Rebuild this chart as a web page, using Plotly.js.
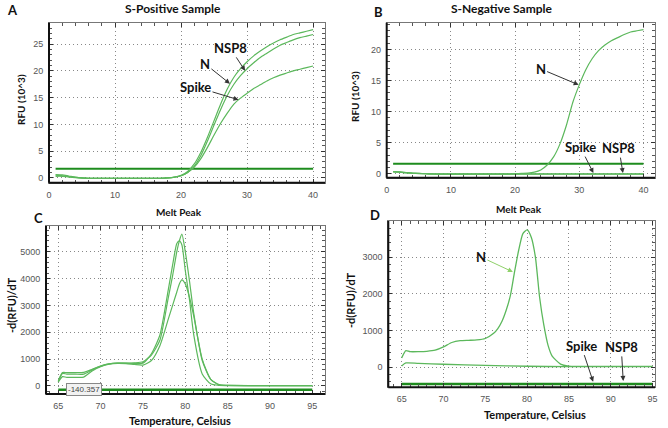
<!DOCTYPE html>
<html>
<head>
<meta charset="utf-8">
<script src="https://cdn.plot.ly/plotly-3.0.1.min.js"></script>
<style>
  html, body { margin: 0; padding: 0; background: white; }
  #grafico { width: 668px; height: 428px; }
</style>
</head>
<body>
<div id="grafico"></div>
<script>
// qPCR amplification (A, B) and melt peak (C, D) panels

// ---- A: S-positive sample, amplification ----
const ciclos = [1,2,3,4,5,6,7,8,9,10,11,12,13,14,15,16,17,18,19,20,21,22,23,24,25,26,27,28,29,30,31,32,33,34,35,36,37,38,39,40];
const posN = [0.6,0.55,0.35,0.15,0,-0.1,-0.1,-0.1,-0.1,-0.1,-0.1,-0.1,-0.1,-0.1,-0.1,-0.1,-0.08,0,0.15,0.5,1.2,2.6,4.8,7.6,10.7,13.8,16.6,18.8,20.4,21.7,22.8,23.7,24.5,25.2,25.8,26.3,26.8,27.1,27.4,27.7];
const posNSP8 = [0.5,0.4,0.2,0.05,-0.05,-0.1,-0.1,-0.1,-0.1,-0.1,-0.1,-0.1,-0.1,-0.1,-0.1,-0.1,-0.08,0,0.12,0.4,1.0,2.2,4.2,6.9,9.9,12.8,15.4,17.5,19.1,20.4,21.5,22.5,23.3,24.1,24.8,25.3,25.8,26.2,26.5,26.8];
const posSpike = [0.3,0.3,0.2,0.1,0,-0.08,-0.1,-0.1,-0.1,-0.1,-0.1,-0.1,-0.1,-0.1,-0.1,-0.1,-0.08,0,0.15,0.4,1.0,2.0,3.6,5.7,8.0,10.2,12.1,13.8,14.9,15.8,16.7,17.4,18.1,18.7,19.2,19.6,20.0,20.3,20.6,20.9];
const limiarA = 1.7;

// ---- B: S-negative sample, amplification ----
const negN = [0.35,0.3,0.2,0.1,0.05,0,-0.05,-0.05,-0.05,-0.05,-0.05,-0.05,-0.05,-0.05,-0.05,-0.05,-0.05,-0.05,-0.05,0,0.05,0.1,0.25,0.6,1.4,2.7,4.8,7.8,11.5,14.3,16.7,18.5,19.8,20.7,21.4,21.9,22.4,22.8,23.0,23.2];
const negSpike = [0.3,0.25,0.15,0.08,0.03,0,-0.03,-0.05,-0.05,-0.05,-0.05,-0.05,-0.05,-0.05,-0.05,-0.05,-0.05,-0.05,-0.05,-0.05,-0.05,-0.05,-0.05,-0.05,-0.05,-0.05,-0.05,-0.05,-0.05,-0.05,-0.05,-0.05,-0.05,-0.05,-0.05,-0.05,-0.05,-0.05,-0.05,-0.05];
const negNSP8 = [0.35,0.28,0.18,0.1,0.05,0.02,0,-0.02,-0.03,-0.03,-0.03,-0.03,-0.03,-0.03,-0.03,-0.03,-0.03,-0.03,-0.03,-0.03,-0.03,-0.03,-0.03,-0.03,-0.03,-0.03,-0.03,-0.03,-0.03,-0.03,-0.03,-0.03,-0.03,-0.03,-0.03,-0.03,-0.03,-0.03,-0.03,-0.03];
const limiarB = 1.6;

// ---- C: melt peak, S-positive ----
const tempC = [65,65.5,66,67,68,69,70,71,72,73,74,75,76,77,78,78.5,79,79.3,79.6,80,80.5,81,82,83,84,85,88,91,95];
const meltC1 = [200,500,500,500,510,620,740,820,850,850,860,900,1150,1700,3300,4100,5000,5400,5650,5000,3900,2700,950,250,40,20,15,15,15];
const meltC2 = [160,470,440,440,440,600,740,820,855,850,840,850,1200,1900,3600,4500,5300,5400,5250,4300,3200,1900,450,80,20,15,15,15,15];
const meltC3 = [150,350,320,320,330,560,720,810,840,830,800,780,950,1500,2500,3000,3500,3800,3950,3800,3300,2600,1000,250,50,20,15,15,15];
const linhaC = -140;

// ---- D: melt peak, S-negative ----
const tempD = [65,65.5,66,67,68,69,70,71,72,73,74,75,76,76.5,77,77.5,78,78.5,79,79.5,80,80.5,81,81.5,82,82.5,83,84,85,88,91,95];
const meltDN = [250,450,420,420,430,460,550,670,720,730,740,780,920,1050,1250,1550,1950,2600,3200,3650,3750,3550,3000,1900,1150,600,300,80,25,15,15,15];
const tempD2 = [65,65.5,67,70,75,80,85,90,95];
const meltD2 = [30,110,100,75,45,20,10,10,10];
const linhaD = -465;

const verde = "#5cb85c";
const verdeEscuro = "#1e8c1e";

function linha(x, y, eixo, cor, largura) {
  return {
    x: x, y: y, xaxis: "x" + eixo, yaxis: "y" + eixo,
    type: "scatter", mode: "lines",
    line: { color: cor, width: largura, shape: "spline", smoothing: 0.6 },
    hoverinfo: "skip"
  };
}

function constante(x, valor) {
  return x.map(() => valor);
}

const data = [
  linha(ciclos, constante(ciclos, limiarA), "", verdeEscuro, 2),
  linha(ciclos, posN, "", verde, 1.2),
  linha(ciclos, posNSP8, "", verde, 1.2),
  linha(ciclos, posSpike, "", verde, 1.2),

  linha(ciclos, constante(ciclos, limiarB), "2", verdeEscuro, 2),
  linha(ciclos, negN, "2", verde, 1.2),
  linha(ciclos, negSpike, "2", verde, 1.2),
  linha(ciclos, negNSP8, "2", verde, 1.2),

  linha(tempC, constante(tempC, linhaC), "3", verdeEscuro, 2.5),
  linha(tempC, meltC1, "3", verde, 1.2),
  linha(tempC, meltC2, "3", verde, 1.2),
  linha(tempC, meltC3, "3", verde, 1.2),

  linha(tempD, constante(tempD, linhaD), "4", verdeEscuro, 2.5),
  linha(tempD, meltDN, "4", verde, 1.3),
  linha(tempD2, meltD2, "4", verde, 1.3)
];

function eixo(dominio, faixa, passo, passoMenor, inicio) {
  return {
    domain: dominio,
    range: faixa,
    tick0: inicio,
    dtick: passo,
    showgrid: true,
    gridcolor: "#888",
    griddash: "1px,3px",
    gridwidth: 1,
    zeroline: false,
    showline: true,
    linecolor: "#777",
    linewidth: 1,
    mirror: "allticks",
    ticks: "inside",
    ticklen: 4,
    tickcolor: "#333",
    minor: { dtick: passoMenor, tick0: inicio, ticks: "inside", ticklen: 3, tickcolor: "#555", showgrid: false },
    tickfont: { family: "Liberation Sans", size: 9, color: "#555" },
    ticklabelstandoff: 3
  };
}

// domains in paper fractions (figure 668 x 428)
const W = 668, H = 428;
function dx(a, b) { return [a / W, b / W]; }
function dy(topo, base) { return [1 - base / H, 1 - topo / H]; }

function bordas(sufixo) {
  return [
    { type: "line", xref: "x" + sufixo + " domain", yref: "y" + sufixo + " domain", x0: 0, x1: 0, y0: 0, y1: 1, line: { color: "#111", width: 2 } },
    { type: "line", xref: "x" + sufixo + " domain", yref: "y" + sufixo + " domain", x0: 0, x1: 1, y0: 0, y1: 0, line: { color: "#111", width: 2 } }
  ];
}

function texto(px, py, t, tamanho, extra) {
  return Object.assign({
    xref: "paper", yref: "paper", x: px / W, y: 1 - py / H,
    xanchor: "center", yanchor: "middle", showarrow: false,
    text: "<b>" + t + "</b>",
    font: { family: "Lato, Open Sans, sans-serif", size: tamanho, color: "#111" }
  }, extra || {});
}

function seta(eixoSuf, x, y, t, ax, ay, cor) {
  return {
    xref: "x" + eixoSuf, yref: "y" + eixoSuf, x: x, y: y,
    ax: ax, ay: ay, text: "<b>" + t + "</b>",
    showarrow: true, arrowhead: 2, arrowsize: 1, arrowwidth: 1,
    arrowcolor: cor || "#333", standoff: 0,
    font: { family: "Lato, Open Sans, sans-serif", size: 13, color: "#111" }
  };
}

const layout = {
  width: W,
  height: H,
  margin: { l: 0, r: 0, t: 0, b: 0 },
  paper_bgcolor: "white",
  plot_bgcolor: "white",
  showlegend: false,
  xaxis: Object.assign(eixo(dx(49, 325), [0, 41.8], 10, 2, 0), { anchor: "y" }),
  yaxis: Object.assign(eixo(dy(22.7, 182.7), [-0.9, 29], 5, 1, 0), { anchor: "x" }),
  xaxis2: Object.assign(eixo(dx(386.7, 655), [0, 41.8], 10, 2, 0), { anchor: "y2" }),
  yaxis2: Object.assign(eixo(dy(22.7, 177.7), [-0.64, 24.3], 5, 1, 0), { anchor: "x2" }),
  xaxis3: Object.assign(eixo(dx(46, 325), [63.55, 96.5], 5, 1, 65), { anchor: "y3" }),
  yaxis3: Object.assign(eixo(dy(226, 394), [-298, 5955], 1000, 200, 0), { anchor: "x3" }),
  xaxis4: Object.assign(eixo(dx(388.3, 655), [63.4, 95.3], 5, 1, 65), { anchor: "y4" }),
  yaxis4: Object.assign(eixo(dy(221, 387.3), [-555, 3993], 1000, 200, 0), { anchor: "x4" }),
  shapes: [].concat(bordas(""), bordas("2"), bordas("3"), bordas("4")),
  annotations: [
    texto(12, 10, "A", 13),
    texto(173, 8, "S-Positive Sample", 12),
    texto(379, 12, "B", 13),
    texto(502, 8, "S-Negative Sample", 12),
    texto(38, 218, "C", 13),
    texto(179, 212, "Melt Peak", 10),
    texto(375, 215, "D", 13),
    texto(519, 209, "Melt Peak", 10),
    texto(21, 100, "RFU (10^3)", 10, { textangle: -90 }),
    texto(355, 97, "RFU (10^3)", 10, { textangle: -90 }),
    texto(11, 305, "-d(RFU)/dT", 11, { textangle: -90 }),
    texto(350, 300, "-d(RFU)/dT", 11, { textangle: -90 }),
    texto(180, 420, "Temperature, Celsius", 11),
    texto(535, 414, "Temperature, Celsius", 11),

    seta("", 29.7, 20.0, "NSP8", -15, -23),
    seta("", 27.4, 17.6, "N", -25, -20),
    seta("", 28.7, 14.6, "Spike", -43, -13),

    seta("2", 29.9, 14.3, "N", -38, -16),
    seta("2", 32.2, 0.1, "Spike", -13, -26),
    seta("2", 36.8, 0.1, "NSP8", -4, -25),

    seta("4", 78.3, 2600, "N", -32, -15, "#8fd16a"),
    seta("4", 87.9, -400, "Spike", -12, -36),
    seta("4", 91.5, -380, "NSP8", -2, -34),

    {
      xref: "x3", yref: "y3", x: 68.0, y: -112,
      text: "-140.357", showarrow: false,
      bgcolor: "#f2f2f2", bordercolor: "#888", borderwidth: 1, borderpad: 1,
      font: { family: "Liberation Sans", size: 8, color: "#444" }
    }
  ]
};

const config = { staticPlot: true, displayModeBar: false };
Plotly.newPlot("grafico", data, layout, config);
</script>
</body>
</html>
